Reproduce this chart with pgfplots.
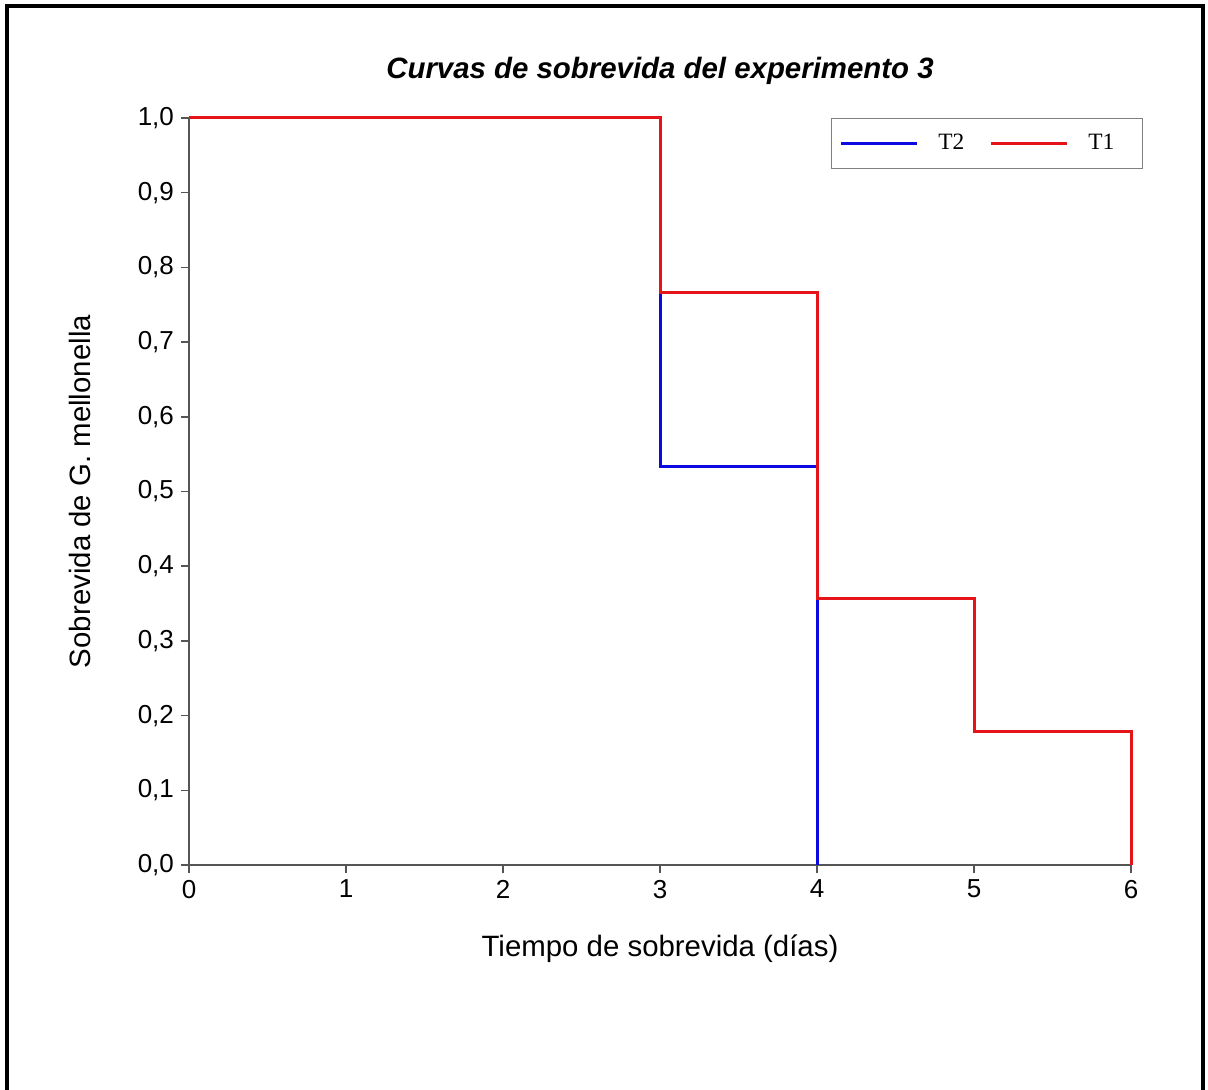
\documentclass[border=0pt]{standalone}
\usepackage{fontspec}
\setmainfont{Liberation Sans}
\newfontfamily\legfont{Liberation Serif}
\usepackage{pgfplots}
\pgfplotsset{compat=1.18}
\definecolor{kmblue}{RGB}{10,10,225}
\definecolor{kmred}{RGB}{228,20,24}
\definecolor{axgray}{RGB}{85,85,85}
\begin{document}
\begin{tikzpicture}
\useasboundingbox (0pt,0pt) rectangle (604pt,544.5pt);
\draw[line width=2pt] (3.5pt,-2pt) -- (3.5pt,541.5pt) -- (601.5pt,541.5pt) -- (601.5pt,-2pt);
\begin{axis}[
    at={(94.5pt,112pt)}, anchor=south west,
    scale only axis, width=471pt, height=373.5pt,
    xmin=0, xmax=6, ymin=0, ymax=1,
    clip=false,
    axis x line*=bottom, axis y line*=left,
    axis line style={axgray, line width=0.8pt, -},
    xtick={0,1,...,6},
    ytick={0,0.1,...,1.0},
    tick align=outside, major tick length=4pt,
    tick style={axgray, line width=0.8pt},
    yticklabel style={/pgf/number format/.cd, use comma, fixed, fixed zerofill, precision=1},
    /pgf/number format/assume math mode=true,
    tick label style={font=\fontsize{13}{15}\selectfont},
    title={\textbf{\textit{Curvas de sobrevida del experimento 3}}},
    title style={at={(0.5,1.047)}, anchor=center, font=\fontsize{14.7}{17}\selectfont},
    xlabel={Tiempo de sobrevida (días)},
    xlabel style={at={(0.5,-0.112)}, anchor=center, font=\fontsize{14.7}{17}\selectfont},
    ylabel={Sobrevida de G. mellonella},
    ylabel style={at={(-0.1157,0.5)}, anchor=center, rotate=0, font=\fontsize{14.7}{17}\selectfont},
    legend columns=2,
    legend image code/.code={\draw[#1] (0pt,0pt) -- (38pt,0pt);},
    legend style={at={(0.6815,1.0)}, anchor=north west, draw=gray,
        font=\legfont\fontsize{11.7}{14}\selectfont,
        inner xsep=4pt, inner ysep=6pt,
        /tikz/every even column/.append style={column sep=2.5pt},
        nodes={inner xsep=10pt}},
]
\addplot[kmblue, line width=1.5pt, const plot] coordinates {
    (0,1.0) (3,0.533) (4,0.0)
};
\addlegendentry{T2}
\addplot[kmred, line width=1.5pt, const plot] coordinates {
    (0,1.0) (3,0.767) (4,0.357) (5,0.179) (6,0.0)
};
\addlegendentry{T1}
\end{axis}
\end{tikzpicture}
\end{document}
